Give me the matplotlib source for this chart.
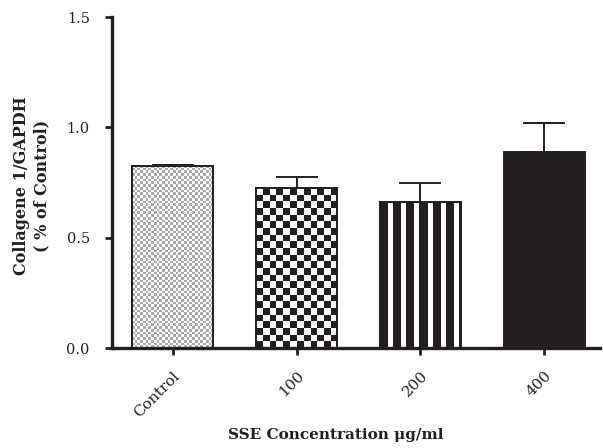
import numpy as np
import matplotlib
matplotlib.use("Agg")
import matplotlib.pyplot as plt
from matplotlib.colors import ListedColormap

categories = ["Control", "100", "200", "400"]
values = [0.825, 0.725, 0.662, 0.888]
errors = [0.004, 0.050, 0.086, 0.132]
yticks = [0.0, 0.5, 1.0, 1.5]

ink = "#231f20"
plt.rcParams['font.family'] = ['DejaVu Serif']

fig = plt.figure(figsize=(6.03, 4.48), dpi=100)
ax = fig.add_axes([112/603, 1-348/448, (600-112)/603, (348-17)/448])

x = np.arange(len(categories))
bars = ax.bar(x, values, width=0.655, facecolor="white", edgecolor=ink,
              linewidth=1.4, zorder=2)
ax.errorbar(x, values, yerr=[np.zeros(len(values)), errors], fmt="none",
            ecolor=ink, elinewidth=1.4, capsize=15, capthick=1.4, zorder=1)

ax.set_xlim(-0.49, 3.45)
ax.set_ylim(0, 1.5)

# pattern fills
fig.canvas.draw()
def px_size(patch):
    x0, y0 = patch.get_x(), patch.get_y()
    w, h = patch.get_width(), patch.get_height()
    p0 = ax.transData.transform((x0, y0))
    p1 = ax.transData.transform((x0 + w, y0 + h))
    return abs(p1[0]-p0[0]), abs(p1[1]-p0[1])

styles = [("checker", 2.7, "#a9a9a9"), ("checker", 6.6, ink),
          ("stripes", 13.0, ink), ("solid", 1, ink)]
for patch, (kind, sq, col) in zip(bars.patches, styles):
    wpx, hpx = px_size(patch)
    x0, w, h = patch.get_x(), patch.get_width(), patch.get_height()
    if kind == "solid":
        patch.set_facecolor(col)
        continue
    if kind == "checker":
        nx = max(1, int(round(wpx / sq)))
        ny = max(1, int(round(hpx / sq)))
        arr = (np.add.outer(np.arange(ny), np.arange(nx)) % 2).astype(float)
    else:
        nxp = int(round(wpx))
        cols = ((np.arange(nxp) % sq) < 8.0).astype(float)
        arr = cols[None, :]
    im = ax.imshow(arr, extent=[x0, x0 + w, 0, h], cmap=ListedColormap(["white", col]),
                   vmin=0, vmax=1, interpolation="nearest", aspect="auto", zorder=2.5)
    im.set_clip_path(patch)
    ax.bar(x0 + w/2, h, width=w, facecolor="none", edgecolor=ink, linewidth=1.4, zorder=3)

ax.set_xlim(-0.49, 3.45)
ax.set_ylim(0, 1.5)
ax.set_xticks(x)
ax.set_xticklabels(categories, rotation=45, ha="right", va="top", rotation_mode="anchor",
                   fontsize=11, color=ink)
ax.set_yticks(yticks)
ax.set_yticklabels([f"{v:.1f}" for v in yticks], fontsize=10.5, color=ink)
for s in ["top", "right"]:
    ax.spines[s].set_visible(False)
for s in ["left", "bottom"]:
    ax.spines[s].set_linewidth(2.4)
    ax.spines[s].set_color(ink)
ax.tick_params(axis="both", direction="out", length=5, width=2, color=ink)
ax.tick_params(axis="y", pad=11)
ax.tick_params(axis="x", pad=10)

ax.set_ylabel("Collagene 1/GAPDH\n( % of Control)", fontsize=11.5, fontweight="bold",
              color=ink, linespacing=1.3)
ax.yaxis.set_label_coords(-0.126, 0.49)
ax.set_xlabel("SSE Concentration μg/ml", fontsize=11, fontweight="bold", color=ink)
ax.xaxis.set_label_coords(0.459, -0.242)

fig.savefig("out.png", dpi=100)
